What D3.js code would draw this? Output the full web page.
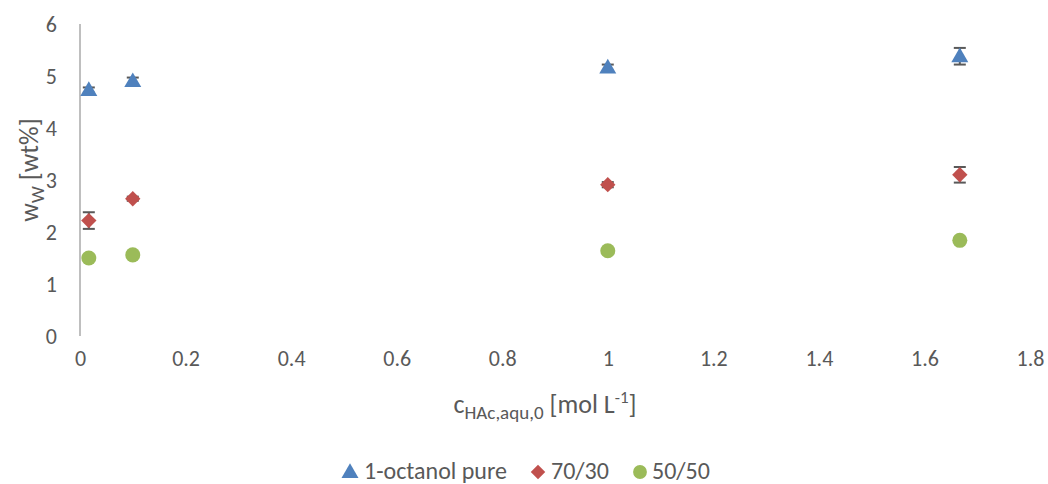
<!DOCTYPE html>
<html><head><meta charset="utf-8">
<script src="https://cdn.jsdelivr.net/npm/d3@7"></script>
<style>body{margin:0;background:#fff}svg{display:block}text{font-family:Calibri,Carlito,"Open Sans",sans-serif;fill:#595959}</style>
</head><body><svg id="c" width="1048" height="484"></svg>
<script>
const xValues = [0.0167, 0.1, 1, 1.667];
const octanolPure = [4.73, 4.90, 5.16, 5.38];
const octanolPureErr = [0.05, 0.07, 0.06, 0.16];
const mix7030 = [2.22, 2.64, 2.91, 3.10];
const mix7030Err = [0.16, 0.04, 0.05, 0.15];
const mix5050 = [1.50, 1.56, 1.64, 1.84];
const mix5050Err = [0.03, 0.03, 0.03, 0.03];
const xTicks = [0, 0.2, 0.4, 0.6, 0.8, 1, 1.2, 1.4, 1.6, 1.8];
const yTicks = [0, 1, 2, 3, 4, 5, 6];
const seriesNames = ["1-octanol pure", "70/30", "50/50"];

const svg = d3.select("#c");
const x = d3.scaleLinear().domain([0, 1.8]).range([80, 1030]);
const y = d3.scaleLinear().domain([0, 6]).range([336, 24]);

// y axis line
svg.append("line").attr("x1", x(0)).attr("x2", x(0)).attr("y1", y(6)).attr("y2", y(0))
  .attr("stroke", "#BFBFBF").attr("stroke-width", 2);

const yAxis = d3.axisLeft(y).tickValues(yTicks).tickSize(0).tickPadding(0).tickFormat(d3.format("d"));
const gy = svg.append("g").attr("transform", "translate(57,0)").call(yAxis);
gy.select(".domain").remove();
gy.selectAll("text").style("font-size", "22px").attr("dy", "0.35em");

const xAxis = d3.axisBottom(x).tickValues(xTicks).tickSize(0).tickPadding(0).tickFormat(d => d3.format("")(+d.toFixed(1)));
const gx = svg.append("g").attr("transform", "translate(0,358)").call(xAxis);
gx.select(".domain").remove();
gx.selectAll("text").style("font-size", "22px").attr("dy", "0.35em");

// axis titles
const yt = svg.append("text").attr("transform", "translate(38,170) rotate(-90)").attr("text-anchor", "middle").style("font-size", "26px");
yt.append("tspan").text("w");
yt.append("tspan").text("W").style("font-size", "19px").attr("dy", 6);
yt.append("tspan").text(" [wt%]").attr("dy", -6);

const xt = svg.append("text").attr("x", 545).attr("y", 413).attr("text-anchor", "middle").style("font-size", "26px");
xt.append("tspan").text("c");
xt.append("tspan").text("HAc,aqu,0").style("font-size", "19px").attr("dy", 6);
xt.append("tspan").text(" [mol L").attr("dy", -6);
xt.append("tspan").text("-1").style("font-size", "17px").attr("dy", -10);
xt.append("tspan").text("]").attr("dy", 10);

const colors = ["#4F81BD", "#C0504D", "#9BBB59"];
const symbols = [d3.symbolTriangle, d3.symbolSquare, d3.symbolCircle];
const sizes = [125, 118, 177];
const data = [octanolPure, mix7030, mix5050];
const errs = [octanolPureErr, mix7030Err, mix5050Err];

data.forEach((vals, si) => {
  const g = svg.append("g");
  const pts = xValues.map((xv, i) => ({x: xv, y: vals[i], e: errs[si][i]}));
  pts.forEach(p => {
    const cx = x(p.x), y1 = y(p.y + p.e), y2 = y(p.y - p.e);
    g.append("line").attr("x1", cx).attr("x2", cx).attr("y1", y1).attr("y2", y2).attr("stroke", "#595959").attr("stroke-width", 2);
    [y1, y2].forEach(yy => g.append("line").attr("x1", cx - 6).attr("x2", cx + 6).attr("y1", yy).attr("y2", yy).attr("stroke", "#595959").attr("stroke-width", 2));
  });
  const sym = d3.symbol().type(symbols[si]).size(sizes[si]);
  g.selectAll("path.m").data(pts).join("path").attr("class", "m")
    .attr("d", sym)
    .attr("transform", d => `translate(${x(d.x)},${y(d.y) + (si === 0 ? 1 : 0)})${si === 1 ? " rotate(45)" : ""}`)
    .attr("fill", colors[si]);
});

// legend
const legendItems = [{sx: 350, tx: 364}, {sx: 538, tx: 551}, {sx: 640, tx: 652}];
const legendSizes = [125, 105, 150];
legendItems.forEach((li, i) => {
  const sym = d3.symbol().type(symbols[i]).size(legendSizes[i]);
  svg.append("path").attr("d", sym)
    .attr("transform", `translate(${li.sx},${i === 0 ? 473 : 472})${i === 1 ? " rotate(45)" : ""}`)
    .attr("fill", colors[i]);
  svg.append("text").attr("x", li.tx).attr("y", 471).attr("dy", "0.35em").style("font-size", "24px").text(seriesNames[i]);
});
</script></body></html>
